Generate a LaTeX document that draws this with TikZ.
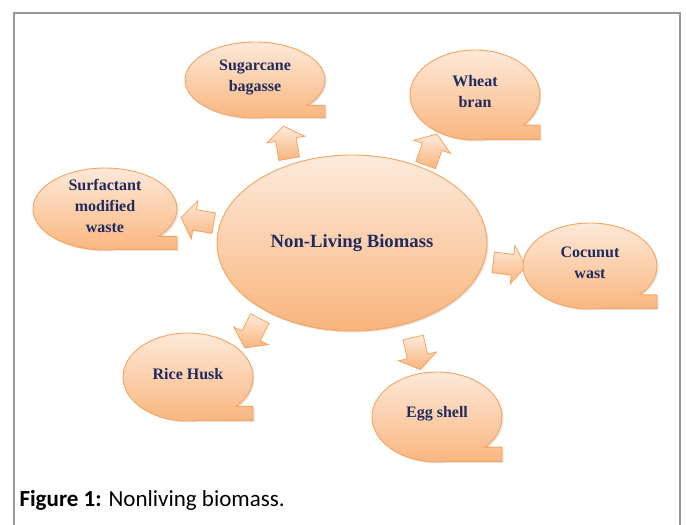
\documentclass[tikz,border=0pt]{standalone}
\usepackage{fontspec}
\setmainfont{Liberation Serif}
\newfontfamily\capfont{Carlito}
\usetikzlibrary{shapes.geometric,shapes.arrows,shadows,calc}

\definecolor{peachtop}{HTML}{FDEBDC}
\definecolor{peachbot}{HTML}{F9B47C}
\definecolor{peachline}{HTML}{F5A35E}
\definecolor{inkblue}{HTML}{1F2B5E}
\definecolor{framegray}{HTML}{999999}

\tikzset{
  bubble/.style={draw=peachline, line width=0.9pt, top color=peachtop, bottom color=peachbot,
    drop shadow={shadow xshift=1.5pt, shadow yshift=-1.5pt, opacity=0.2}},
  bubtext/.style={font=\fontsize{16}{21}\selectfont\bfseries, text=inkblue, align=center},
  blockarrow/.style={single arrow, draw=peachline, line width=0.8pt, top color=peachtop, bottom color=peachbot,
    minimum height=33pt, single arrow head extend=9pt,
    single arrow tip angle=110, inner xsep=0pt, inner ysep=10pt}
}

% name, x, y, x radius, y radius, text
\newcommand{\bubble}[6]{%
  \path[bubble] ($(#2,#3)+(42:#4 and #5)$) -- ($(#2,#3)+(#4,{#5*sin(42)})$)
    -- ($(#2,#3)+(#4,{#5*sin(80)})$) -- ($(#2,#3)+(80:#4 and #5)$)
    arc[start angle=80, end angle=402, x radius=#4, y radius=#5] -- cycle;
  \node[bubtext] (#1) at (#2,#3-3) {#6};
}

\begin{document}
\begin{tikzpicture}[x=1pt, y=-1pt]

\useasboundingbox (0,0) rectangle (686,525);
\draw[framegray, line width=1.6pt] (14,530) -- (14,13) -- (680,13) -- (680,530);

\node[blockarrow, rotate=100] (a1) at (287,146) {};
\node[blockarrow, rotate=70] (a2) at (430,153) {};
\node[blockarrow, rotate=170] (a3) at (201,221) {};
\node[blockarrow, rotate=-7] (a4) at (506,264) {};
\node[blockarrow, rotate=-117] (a5) at (254,330) {};
\node[blockarrow, rotate=-77] (a6) at (416,350) {};

\node[ellipse, bubble, minimum width=270pt, minimum height=176pt, inner sep=0pt,
  font=\fontsize{18.7}{22}\selectfont\bfseries, text=inkblue] (bio) at (352,243) {Non-Living Biomass};

\bubble{sug}{255}{80}{70}{38}{Sugarcane\\bagasse}
\bubble{wheat}{475}{95}{65}{45}{Wheat\\bran}
\bubble{surf}{105}{209}{72}{41}{Surfactant\\modified\\waste}
\bubble{coco}{590}{266}{67}{43}{Cocunut\\wast}
\bubble{rice}{188}{377}{65}{44}{Rice Husk}
\bubble{egg}{437}{417}{65}{45}{Egg shell}

\node[anchor=base west, font=\capfont\fontsize{23}{27}\selectfont] (cap) at (16,506)
  {\textbf{Figure 1:} Nonliving biomass.};
\end{tikzpicture}
\end{document}
